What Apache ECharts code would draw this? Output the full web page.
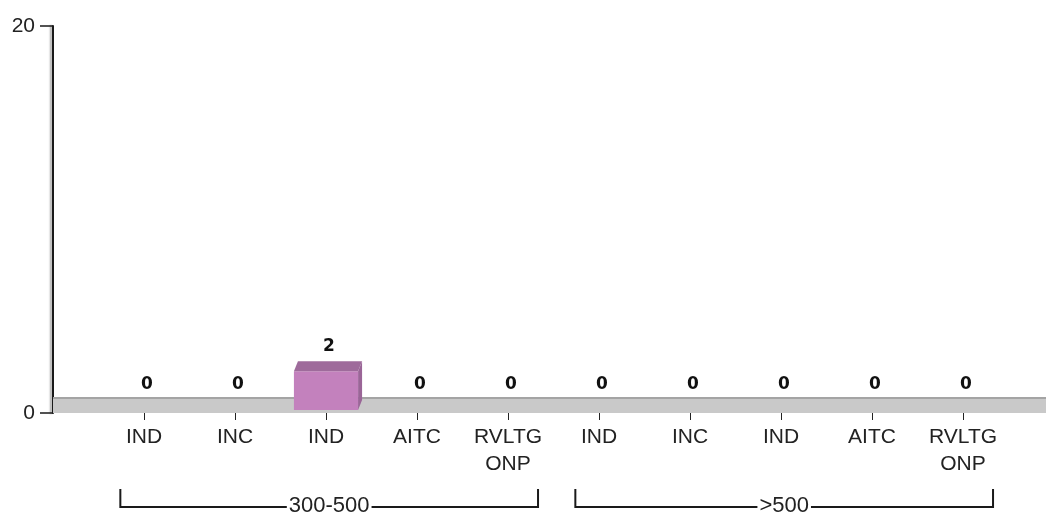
<!DOCTYPE html>
<html>
<head>
<meta charset="utf-8">
<script src="https://cdn.jsdelivr.net/npm/echarts@6/dist/echarts.min.js"></script>
<style>
  html, body { margin: 0; padding: 0; background: #fff; }
  #chart { width: 1046px; height: 515px; }
</style>
</head>
<body>
<div id="chart"></div>
<script>
// data
var categories = ['IND', 'INC', 'IND', 'AITC', 'RVLTG\nONP', 'IND', 'INC', 'IND', 'AITC', 'RVLTG\nONP'];
var counts = [0, 0, 2, 0, 0, 0, 0, 0, 0, 0];
var groupNames = ['300-500', '>500'];
var groupFirst = [1, 6];
var groupLast = [5, 10];
var yMax = 20;

var xMax = 10.912;   // axis units, one per category
var floorTop = 0.775; // depth of the grey floor, in y units
var fontName = '"Liberation Sans", Arial, sans-serif';

var myChart = echarts.init(document.getElementById('chart'));

var barData = counts.map(function (v, i) { return [i + 1, v]; });
var tickValues = categories.map(function (c, i) { return i + 1; });
var groupData = groupNames.map(function (n, i) { return [groupFirst[i], groupLast[i], i]; });

// 3d bar: front, top and side faces
function renderBar(params, api) {
    var x = api.value(0), v = api.value(1);
    var base = api.coord([x, 0]);
    var top = api.coord([x, v]);
    var w = api.size([0.705, 0])[0];
    var lift = 3, dx = 4, dy = 10;
    var l = base[0] - w / 2, r = base[0] + w / 2;
    var by = base[1] - lift, ty = top[1] - lift;
    var children = [];
    if (v > 0) {
        children.push({ type: 'polygon', shape: { points: [[r, ty], [r + dx, ty - dy], [r + dx, by - dy], [r, by]] }, style: { fill: '#9a6597' } });
        children.push({ type: 'rect', shape: { x: l, y: ty, width: w, height: by - ty }, style: { fill: '#c381bd' } });
        children.push({ type: 'polygon', shape: { points: [[l, ty], [r, ty], [r + dx, ty - dy], [l + dx, ty - dy]] }, style: { fill: '#9e6b9b' } });
    }
    children.push({
        type: 'text',
        style: {
            text: String(v), x: base[0] + 3, y: ty - dy - 15,
            align: 'center', verticalAlign: 'middle',
            font: 'bold 17px "DejaVu Sans", Verdana, sans-serif', fill: '#111'
        }
    });
    return { type: 'group', children: children };
}

// group brackets under the axis labels
function renderBracket(params, api) {
    var a = api.value(0), b = api.value(1), idx = api.value(2);
    var p0 = api.coord([a - 0.26, 0]);
    var p1 = api.coord([b + 0.33, 0]);
    var y = p0[1] + 94, yTop = p0[1] + 76;
    return {
        type: 'group',
        children: [
            { type: 'polyline', shape: { points: [[p0[0], yTop], [p0[0], y], [p1[0], y], [p1[0], yTop]] }, style: { stroke: '#1a1a1a', lineWidth: 2, fill: 'none' } },
            {
                type: 'text',
                style: {
                    text: groupNames[idx], x: (p0[0] + p1[0]) / 2, y: y - 1,
                    align: 'center', verticalAlign: 'middle',
                    font: '22px ' + fontName, fill: '#222',
                    backgroundColor: '#fff', padding: [0, 2]
                }
            }
        ]
    };
}

var option = {
    animation: false,
    backgroundColor: '#fff',
    grid: { left: 53, right: 0, top: 26, bottom: 102, outerBoundsMode: 'none' },
    xAxis: {
        type: 'value',
        min: 0,
        max: xMax,
        axisLine: { show: false },
        splitLine: { show: false },
        axisTick: { show: true, customValues: tickValues, length: 7, lineStyle: { color: '#222', width: 1 } },
        axisLabel: {
            customValues: tickValues,
            formatter: function (v) { return categories[Math.round(v) - 1] || ''; },
            fontFamily: fontName, fontSize: 21, lineHeight: 27, color: '#222', margin: 11
        }
    },
    yAxis: {
        type: 'value',
        min: 0,
        max: yMax,
        interval: yMax,
        axisLine: { show: true, lineStyle: { color: '#1a1a1a', width: 2, shadowColor: 'rgba(0,0,0,0.35)', shadowOffsetX: -2, shadowBlur: 2 } },
        axisTick: { show: true, length: 13, lineStyle: { color: '#1a1a1a', width: 1.5 } },
        splitLine: { show: false },
        axisLabel: { fontFamily: fontName, fontSize: 21, color: '#222', margin: 18 }
    },
    series: [
        {
            type: 'custom',
            name: 'groups',
            z: 1,
            silent: true,
            renderItem: renderBracket,
            data: groupData,
            markArea: {
                silent: true,
                itemStyle: { color: '#c9c9c9' },
                data: [[{ coord: [0, 0] }, { coord: [xMax, floorTop] }]]
            },
            markLine: {
                silent: true,
                symbol: 'none',
                label: { show: false },
                lineStyle: { color: '#a4a4a4', width: 2, type: 'solid' },
                data: [[{ coord: [0, floorTop] }, { coord: [xMax, floorTop] }]]
            }
        },
        {
            type: 'custom',
            name: 'count',
            z: 5,
            renderItem: renderBar,
            data: barData
        }
    ]
};

myChart.setOption(option, true);
</script>
</body>
</html>
